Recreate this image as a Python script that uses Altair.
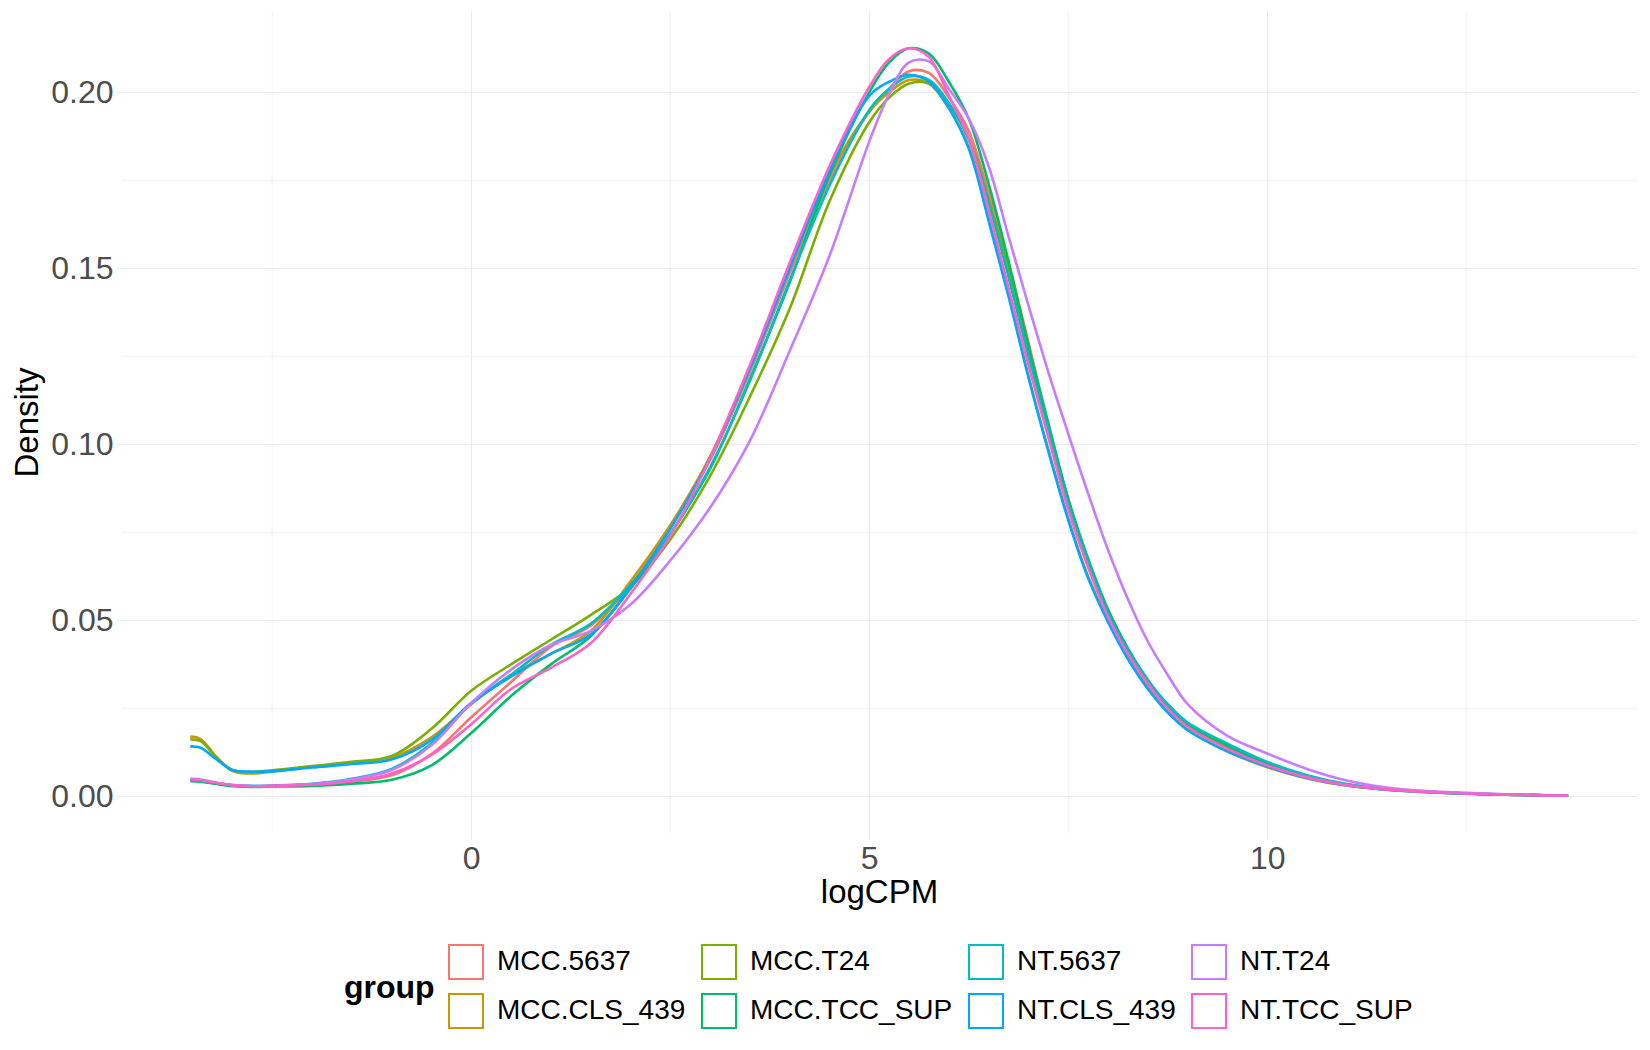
import altair as alt
import pandas as pd

FONT = "Liberation Sans, Arial, Helvetica, sans-serif"

# x positions (logCPM) at which the density curves were read
X = [-3.53, -3.4, -3.2, -3.0, -2.75, -2.5, -2.0, -1.5, -1.0, -0.5,
     0.0, 0.5, 1.0, 1.5, 2.0, 2.5, 3.0, 3.5, 4.0, 4.5,
     5.0, 5.25, 5.5, 5.75, 6.0, 6.25, 6.5, 6.75, 7.0, 7.25,
     7.5, 7.75, 8.0, 8.25, 8.5, 8.75, 9.0, 9.5, 10.0, 10.5,
     11.0, 11.5, 12.0, 12.5, 13.0, 13.78]

GROUPS = ["MCC.5637", "MCC.CLS_439", "MCC.T24", "MCC.TCC_SUP",
          "NT.5637", "NT.CLS_439", "NT.T24", "NT.TCC_SUP"]
COLORS = ["#F8766D", "#CD9600", "#7CAE00", "#00BE67",
          "#00BFC4", "#00A9FF", "#C77CFF", "#FF61CC"]
LEGEND_ORDER = ["MCC.5637", "MCC.T24", "NT.5637", "NT.T24",
                "MCC.CLS_439", "MCC.TCC_SUP", "NT.CLS_439", "NT.TCC_SUP"]

MCC_5637 = [0.0045, 0.0044, 0.0037, 0.0031, 0.0029, 0.0030, 0.0033, 0.0042, 0.0060, 0.0120,
            0.0225, 0.0325, 0.0425, 0.0485, 0.0600, 0.0765, 0.0955, 0.1205, 0.1485, 0.1750,
            0.1945, 0.2010, 0.2060, 0.2055, 0.1985, 0.1890, 0.1715, 0.1515, 0.1290, 0.1055,
            0.0845, 0.0670, 0.0530, 0.0420, 0.0330, 0.0258, 0.0205, 0.0142, 0.0092, 0.0056,
            0.0033, 0.0020, 0.0013, 0.0008, 0.0005, 0.0002]
MCC_CLS_439 = [0.0170, 0.0163, 0.0112, 0.0072, 0.0065, 0.0071, 0.0084, 0.0096, 0.0110, 0.0168,
               0.0262, 0.0345, 0.0405, 0.0470, 0.0610, 0.0770, 0.0965, 0.1220, 0.1500, 0.1765,
               0.1945, 0.2000, 0.2035, 0.2025, 0.1955, 0.1845, 0.1640, 0.1425, 0.1195, 0.0985,
               0.0790, 0.0625, 0.0500, 0.0395, 0.0310, 0.0240, 0.0190, 0.0127, 0.0083, 0.0051,
               0.0030, 0.0019, 0.0012, 0.0008, 0.0005, 0.0002]
MCC_T24 = [0.0162, 0.0157, 0.0110, 0.0075, 0.0070, 0.0074, 0.0086, 0.0098, 0.0115, 0.0192,
           0.0300, 0.0375, 0.0445, 0.0515, 0.0595, 0.0730, 0.0910, 0.1135, 0.1385, 0.1690,
           0.1915, 0.1985, 0.2025, 0.2025, 0.1965, 0.1870, 0.1695, 0.1495, 0.1265, 0.1050,
           0.0835, 0.0665, 0.0525, 0.0415, 0.0325, 0.0253, 0.0200, 0.0140, 0.0090, 0.0055,
           0.0032, 0.0020, 0.0013, 0.0008, 0.0005, 0.0002]
MCC_TCC_SUP = [0.0043, 0.0042, 0.0035, 0.0029, 0.0027, 0.0028, 0.0030, 0.0036, 0.0047, 0.0088,
               0.0180, 0.0285, 0.0375, 0.0455, 0.0590, 0.0745, 0.0930, 0.1185, 0.1460, 0.1765,
               0.2000, 0.2085, 0.2125, 0.2110, 0.2030, 0.1925, 0.1740, 0.1520, 0.1280, 0.1060,
               0.0845, 0.0675, 0.0530, 0.0420, 0.0330, 0.0255, 0.0205, 0.0145, 0.0093, 0.0057,
               0.0034, 0.0021, 0.0013, 0.0008, 0.0005, 0.0002]
NT_5637 = [0.0046, 0.0045, 0.0038, 0.0032, 0.0030, 0.0031, 0.0036, 0.0050, 0.0078, 0.0150,
           0.0265, 0.0345, 0.0430, 0.0490, 0.0600, 0.0745, 0.0935, 0.1180, 0.1465, 0.1735,
           0.1950, 0.2010, 0.2045, 0.2035, 0.1970, 0.1865, 0.1685, 0.1475, 0.1250, 0.1040,
           0.0830, 0.0665, 0.0520, 0.0415, 0.0330, 0.0262, 0.0210, 0.0150, 0.0098, 0.0060,
           0.0035, 0.0021, 0.0014, 0.0009, 0.0005, 0.0002]
NT_CLS_439 = [0.0142, 0.0138, 0.0105, 0.0075, 0.0070, 0.0071, 0.0082, 0.0092, 0.0105, 0.0160,
              0.0265, 0.0340, 0.0405, 0.0460, 0.0595, 0.0760, 0.0960, 0.1215, 0.1500, 0.1775,
              0.1990, 0.2030, 0.2050, 0.2030, 0.1955, 0.1840, 0.1635, 0.1420, 0.1190, 0.0980,
              0.0785, 0.0620, 0.0495, 0.0390, 0.0305, 0.0238, 0.0188, 0.0128, 0.0085, 0.0052,
              0.0031, 0.0019, 0.0012, 0.0008, 0.0005, 0.0002]
NT_T24 = [0.0050, 0.0048, 0.0039, 0.0032, 0.0029, 0.0030, 0.0035, 0.0048, 0.0075, 0.0145,
          0.0265, 0.0360, 0.0430, 0.0470, 0.0545, 0.0670, 0.0820, 0.1010, 0.1265, 0.1535,
          0.1860, 0.1995, 0.2085, 0.2088, 0.2010, 0.1925, 0.1790, 0.1590, 0.1395, 0.1205,
          0.1030, 0.0860, 0.0700, 0.0560, 0.0440, 0.0345, 0.0262, 0.0172, 0.0122, 0.0078,
          0.0045, 0.0025, 0.0015, 0.0010, 0.0006, 0.0002]
NT_TCC_SUP = [0.0048, 0.0046, 0.0038, 0.0032, 0.0029, 0.0030, 0.0033, 0.0043, 0.0065, 0.0118,
              0.0205, 0.0305, 0.0365, 0.0435, 0.0575, 0.0740, 0.0960, 0.1225, 0.1515, 0.1790,
              0.2015, 0.2095, 0.2125, 0.2100, 0.1990, 0.1870, 0.1665, 0.1445, 0.1225, 0.1020,
              0.0815, 0.0650, 0.0510, 0.0405, 0.0320, 0.0250, 0.0198, 0.0135, 0.0088, 0.0054,
              0.0032, 0.0020, 0.0013, 0.0008, 0.0005, 0.0002]

SERIES = [MCC_5637, MCC_CLS_439, MCC_T24, MCC_TCC_SUP, NT_5637, NT_CLS_439, NT_T24, NT_TCC_SUP]

X_TICKS = [0, 5, 10]
X_MINOR = [-2.5, 2.5, 7.5, 12.5]
Y_TICKS = [0.0, 0.05, 0.10, 0.15, 0.20]
Y_MINOR = [0.025, 0.075, 0.125, 0.175]

rows = []
for gi, (g, ys) in enumerate(zip(GROUPS, SERIES)):
    for xv, yv in zip(X, ys):
        rows.append({"group": g, "gi": gi, "x": xv, "y": yv})
df = pd.DataFrame(rows)

xs = alt.Scale(domain=[-4.40, 14.645], nice=False, zero=False)
ys_ = alt.Scale(domain=[-0.0104, 0.2231], nice=False, zero=False)

x_axis = alt.Axis(values=X_TICKS, format="d", grid=True, gridColor="#EBEBEB", gridWidth=1.1,
                  domain=False, ticks=True, tickColor="#EBEBEB", tickWidth=1.1, tickSize=7,
                  labelFont=FONT, labelFontSize=32, labelColor="#4D4D4D", labelPadding=3,
                  titleFont=FONT, titleFontSize=33, titleFontWeight="normal", titleColor="black",
                  titlePadding=2)
y_axis = alt.Axis(values=Y_TICKS, format=".2f", grid=True, gridColor="#EBEBEB", gridWidth=1.1,
                  domain=False, ticks=True, tickColor="#EBEBEB", tickWidth=1.1, tickSize=5,
                  labelFont=FONT, labelFontSize=32, labelColor="#4D4D4D", labelPadding=3,
                  titleFont=FONT, titleFontSize=33, titleFontWeight="normal", titleColor="black",
                  titlePadding=6)

X_ENC = alt.X("x:Q", scale=xs, axis=x_axis, title="logCPM")
Y_ENC = alt.Y("y:Q", scale=ys_, axis=y_axis, title="Density")

minor_v = alt.Chart(pd.DataFrame({"x": X_MINOR})).mark_rule(
    color="#EBEBEB", strokeWidth=0.7).encode(x=X_ENC)
minor_h = alt.Chart(pd.DataFrame({"y": Y_MINOR})).mark_rule(
    color="#EBEBEB", strokeWidth=0.7).encode(y=Y_ENC)

color_range = [COLORS[GROUPS.index(g)] for g in LEGEND_ORDER]

legend = alt.Legend(
    orient="none", legendX=223, legendY=933, columns=4, direction="horizontal",
    title="group", titleOrient="left", titleAnchor="middle",
    titleBaseline="middle", titleFont=FONT, titleFontSize=32, titleFontWeight="bold",
    titleColor="black", titlePadding=13,
    labelFont=FONT, labelFontSize=28, labelColor="black", labelOffset=13, labelLimit=600,
    symbolType="square", symbolSize=1156, symbolStrokeWidth=2,
    symbolFillColor="transparent", columnPadding=12, rowPadding=7,
)

lines = alt.Chart(df).mark_line(strokeWidth=2.6, interpolate="catmull-rom").encode(
    x=X_ENC,
    y=Y_ENC,
    color=alt.Color("group:N", scale=alt.Scale(domain=LEGEND_ORDER, range=color_range),
                    legend=legend),
    order=alt.Order("x:Q"),
)

chart = alt.layer(minor_v, minor_h, lines).properties(
    width=1516, height=822,
    autosize=alt.AutoSizeParams(type="none"),
    padding={"left": 113, "top": 3, "right": 5, "bottom": 210},
    background="white",
).configure_view(stroke=None)

chart.save("out.html", embed_options={"renderer": "svg", "actions": False})
